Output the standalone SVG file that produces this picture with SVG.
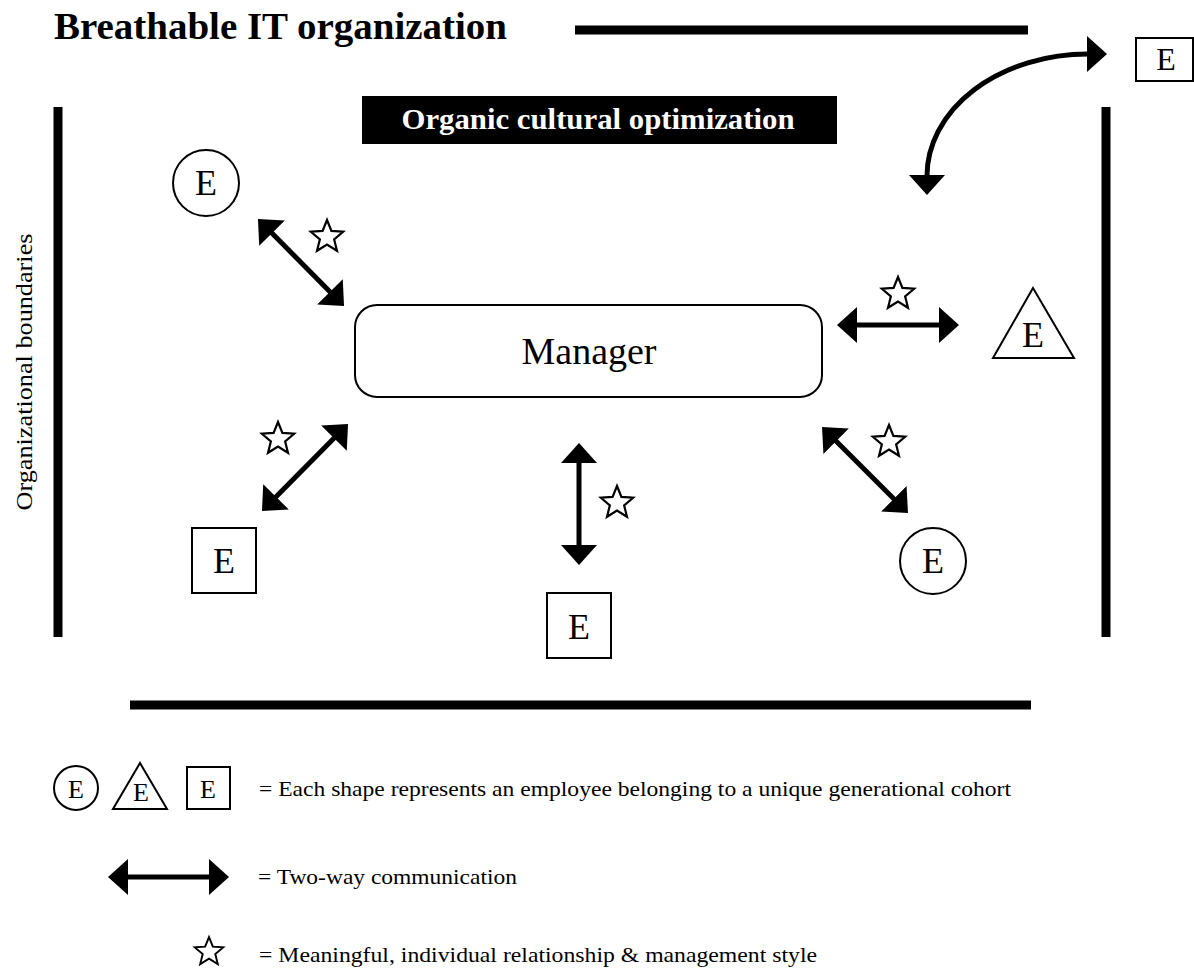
<svg xmlns="http://www.w3.org/2000/svg" xmlns:xlink="http://www.w3.org/1999/xlink" width="1194" height="970" viewBox="0 0 1194 970">
<defs>
<style>
.serif{font-family:"Liberation Serif","DejaVu Serif",serif;fill:#000}
.bar{stroke:#000;stroke-width:9;fill:none}
.shape{fill:#fff;stroke:#000;stroke-width:2}
.conn{stroke:#000;stroke-width:5;fill:none;marker-start:url(#ah);marker-end:url(#ah)}
.star{fill:#fff;stroke:#000;stroke-width:2.2;stroke-linejoin:miter}
.e{font-size:36px;text-anchor:middle}
.leg{font-size:21px}
</style>
<marker id="ah" viewBox="0 0 20 36" refX="8" refY="18" markerWidth="20" markerHeight="36" markerUnits="userSpaceOnUse" orient="auto-start-reverse"><path d="M0,0 L20,18 L0,36 Z" fill="#000"/></marker>
<marker id="ahc" viewBox="0 0 20 36" refX="1" refY="18" markerWidth="20" markerHeight="36" markerUnits="userSpaceOnUse" orient="auto-start-reverse"><path d="M0,0 L20,18 L0,36 Z" fill="#000"/></marker>
<path id="star" d="M0,-17 L4.41,-6.07 L16.17,-5.25 L7.13,2.32 L9.99,13.75 L0,7.5 L-9.99,13.75 L-7.13,2.32 L-16.17,-5.25 L-4.41,-6.07 Z"/>
</defs>
<rect width="1194" height="970" fill="#fff"/>

<g id="title">
<text class="serif" x="54" y="39" font-size="38" font-weight="bold" textLength="453" lengthAdjust="spacingAndGlyphs">Breathable IT organization</text>
</g>

<g id="boundaries">
<line class="bar" x1="575" y1="30" x2="1028" y2="30"/>
<line class="bar" x1="58" y1="107" x2="58" y2="637"/>
<line class="bar" x1="1106" y1="107" x2="1106" y2="637"/>
<line class="bar" x1="130" y1="705" x2="1031" y2="705"/>
<text class="serif" transform="translate(32,372) rotate(-90)" font-size="24" text-anchor="middle" textLength="277" lengthAdjust="spacingAndGlyphs">Organizational boundaries</text>
</g>

<g id="banner">
<rect x="362" y="96" width="475" height="48" fill="#000"/>
<text class="serif" x="598" y="129" font-size="30" font-weight="bold" text-anchor="middle" style="fill:#fff" textLength="393" lengthAdjust="spacingAndGlyphs">Organic cultural optimization</text>
</g>

<g id="manager">
<rect class="shape" x="355" y="305" width="467" height="92" rx="22"/>
<text class="serif" x="589" y="364" font-size="38" text-anchor="middle" textLength="135" lengthAdjust="spacingAndGlyphs">Manager</text>
</g>

<g id="emp-top-left">
<circle class="shape" cx="206" cy="183" r="33"/>
<text class="serif e" x="206" y="195">E</text>
</g>

<g id="emp-right">
<path class="shape" d="M1033,288 L1074,358 L993,358 Z"/>
<text class="serif e" x="1033" y="347">E</text>
</g>

<g id="emp-bottom-left">
<rect class="shape" x="192" y="528" width="64" height="65"/>
<text class="serif e" x="224" y="573">E</text>
</g>

<g id="emp-bottom">
<rect class="shape" x="547" y="593" width="64" height="65"/>
<text class="serif e" x="579" y="639">E</text>
</g>

<g id="emp-bottom-right">
<circle class="shape" cx="933" cy="561" r="33"/>
<text class="serif e" x="933" y="573">E</text>
</g>

<g id="emp-outside">
<rect class="shape" x="1136" y="38" width="57" height="43"/>
<text class="serif" x="1166" y="70" font-size="32" text-anchor="middle">E</text>
</g>

<g id="connectors">
<line class="conn" x1="266.4" y1="227.5" x2="335.6" y2="297.5"/>
<line class="conn" x1="849" y1="325" x2="947" y2="325"/>
<line class="conn" x1="339.6" y1="432.5" x2="270.4" y2="502.5"/>
<line class="conn" x1="579" y1="455" x2="579" y2="553"/>
<line class="conn" x1="830.5" y1="435.5" x2="899.5" y2="504.5"/>
<path d="M927,176 A161,122 0 0 1 1088,54" stroke="#000" stroke-width="5" fill="none" marker-start="url(#ahc)" marker-end="url(#ahc)"/>
</g>

<g id="stars">
<use xlink:href="#star" class="star" x="327" y="237"/>
<use xlink:href="#star" class="star" x="898" y="294"/>
<use xlink:href="#star" class="star" x="278" y="439"/>
<use xlink:href="#star" class="star" x="617" y="503"/>
<use xlink:href="#star" class="star" x="889" y="442"/>
</g>

<g id="legend">
<circle class="shape" cx="76" cy="788" r="22"/>
<text class="serif" x="76" y="798" font-size="26" text-anchor="middle">E</text>
<path class="shape" d="M140,763 L167,809 L113,809 Z"/>
<text class="serif" x="141" y="801" font-size="26" text-anchor="middle">E</text>
<rect class="shape" x="187" y="767" width="43" height="42"/>
<text class="serif" x="208" y="798" font-size="26" text-anchor="middle">E</text>
<text class="serif leg" x="259" y="796" textLength="752" lengthAdjust="spacingAndGlyphs">= Each shape represents an employee belonging to a unique generational cohort</text>
<line class="conn" x1="120" y1="877" x2="217" y2="877"/>
<text class="serif leg" x="258" y="884" textLength="259" lengthAdjust="spacingAndGlyphs">= Two-way communication</text>
<g transform="translate(209,952) scale(0.88)"><use xlink:href="#star" class="star"/></g>
<text class="serif leg" x="259" y="962" textLength="558" lengthAdjust="spacingAndGlyphs">= Meaningful, individual relationship &amp; management style</text>
</g>
</svg>
